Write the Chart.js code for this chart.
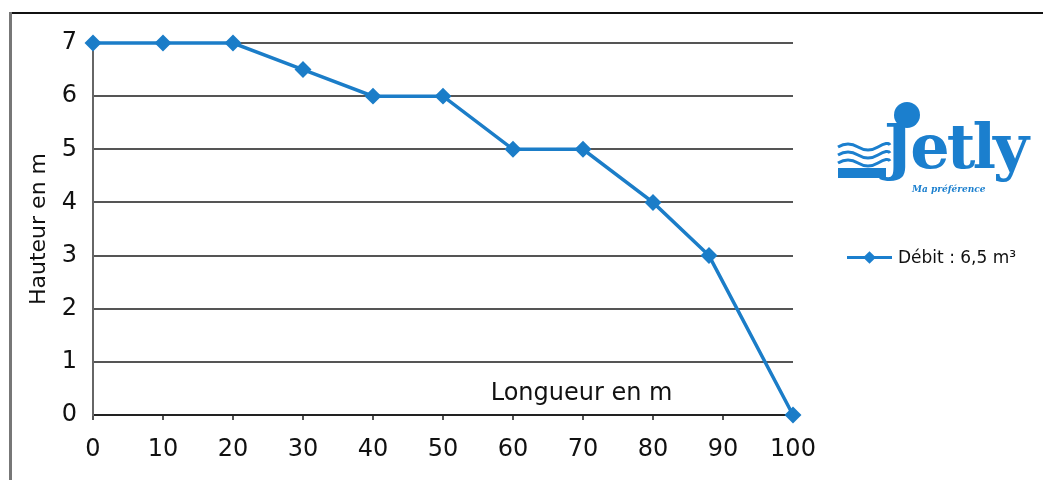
<!DOCTYPE html>
<html>
<head>
<meta charset="utf-8">
<script src="https://cdn.jsdelivr.net/npm/chart.js@4/dist/chart.umd.min.js"></script>
<style>
  html, body { margin: 0; padding: 0; background: #fff; }
  body { width: 1043px; height: 480px; position: relative; overflow: hidden; font-family: "DejaVu Sans", sans-serif; }
  #wrap { position: absolute; left: 0; top: 0; width: 1043px; height: 480px; }
  .frame-top { position: absolute; left: 10px; right: 0; top: 12px; height: 2px; background: #111; }
  .frame-left { position: absolute; left: 9px; top: 12px; bottom: 0; width: 3px; background: #777; }
  .logo { position: absolute; left: 836px; top: 96px; width: 200px; height: 110px; }
  .logo .dot { position: absolute; left: 58px; top: 6px; width: 26px; height: 26px; border-radius: 50%; background: #1b7fce; }
  .logo .word { position: absolute; left: 48px; top: 20px; font-family: "DejaVu Serif", serif; font-weight: bold; font-size: 62px; letter-spacing: -3px; color: #1b7fce; line-height: 1; }
  .logo .tag { position: absolute; left: 76px; top: 88px; font-family: "DejaVu Serif", serif; font-style: italic; font-weight: bold; font-size: 9px; color: #1b7fce; }
  .logo svg { position: absolute; left: 0; top: 46px; }
  .legend { position: absolute; left: 847px; top: 247px; display: flex; align-items: center; font-size: 17px; color: #111; }
  .legend .sym { position: relative; width: 45px; height: 18px; margin-right: 6px; }
  .legend .sym .ln { position: absolute; left: 0; right: 0; top: 8px; height: 3px; background: #1b7fce; }
  .legend .sym .dm { position: absolute; left: 18px; top: 5px; width: 9px; height: 9px; background: #1b7fce; transform: rotate(45deg); }
</style>
</head>
<body>
<div id="wrap"><canvas id="chart" width="1043" height="480"></canvas></div>
<div class="frame-top"></div>
<div class="frame-left"></div>
<div class="logo">
  <svg width="56" height="38" viewBox="0 0 56 38">
    <path d="M2 5 Q12 -1 22 5 T42 5 T54 3" stroke="#1b7fce" stroke-width="3" fill="none"/>
    <path d="M2 13 Q12 7 22 13 T42 13 T54 11" stroke="#1b7fce" stroke-width="3" fill="none"/>
    <path d="M2 21 Q12 15 22 21 T42 21 T54 19" stroke="#1b7fce" stroke-width="3" fill="none"/>
    <path d="M2 26 L50 26 L50 36 L2 36 Z" fill="#1b7fce"/>
  </svg>
  <div class="dot"></div>
  <div class="word">Jetly</div>
  <div class="tag">Ma préférence</div>
</div>
<div class="legend"><div class="sym"><div class="ln"></div><div class="dm"></div></div><span>Débit : 6,5 m³</span></div>
<script>
const lengths = [0, 10, 20, 30, 40, 50, 60, 70, 80, 88, 100];
const heights = [7, 7, 7, 6.5, 6, 6, 5, 5, 4, 3, 0];
const xTicks = [0, 10, 20, 30, 40, 50, 60, 70, 80, 90, 100];
const yTicks = [0, 1, 2, 3, 4, 5, 6, 7];

const BLUE = '#1b7dc8';
const FONT = '"DejaVu Sans", sans-serif';

const points = lengths.map((x, i) => ({ x, y: heights[i] }));

// "Longueur en m" sits inside the plot, above the x axis
const insideTitle = {
  id: 'insideTitle',
  afterDatasetsDraw(chart) {
    const { ctx, scales } = chart;
    ctx.save();
    ctx.font = '24px ' + FONT;
    ctx.fillStyle = '#111';
    ctx.textAlign = 'center';
    ctx.textBaseline = 'middle';
    ctx.fillText('Longueur en m', scales.x.getPixelForValue(69.8), scales.y.getPixelForValue(0.4));
    ctx.restore();
  }
};

new Chart(document.getElementById('chart'), {
  type: 'line',
  data: {
    datasets: [{
      label: 'Débit : 6,5 m³',
      data: points,
      borderColor: BLUE,
      backgroundColor: BLUE,
      borderWidth: 3.5,
      pointStyle: 'rectRot',
      pointRadius: 6,
      pointHoverRadius: 6,
      tension: 0,
      clip: false
    }]
  },
  options: {
    responsive: false,
    animation: false,
    events: [],
    layout: { padding: { left: 22, right: 250, top: 43, bottom: 0 } },
    plugins: { legend: { display: false }, tooltip: { enabled: false } },
    scales: {
      x: {
        type: 'linear',
        min: 0,
        max: 100,
        afterBuildTicks: (s) => { s.ticks = xTicks.map((v) => ({ value: v })); },
        afterFit: (s) => { s.height = 65; },
        grid: { drawOnChartArea: false, drawTicks: true, tickLength: 5, color: '#555', lineWidth: 2 },
        border: { color: '#222', width: 2 },
        ticks: { color: '#111', font: { size: 24, family: FONT }, padding: 15, maxRotation: 0 }
      },
      y: {
        min: 0,
        max: 7,
        afterBuildTicks: (s) => { s.ticks = yTicks.map((v) => ({ value: v })); },
        afterFit: (s) => { s.width = 71; },
        grid: { color: '#555', lineWidth: 2, drawTicks: false },
        border: { color: '#666', width: 2 },
        ticks: { color: '#111', font: { size: 24, family: FONT }, padding: 16 },
        title: { display: true, text: 'Hauteur en m', color: '#111', font: { size: 22, family: FONT }, padding: { top: 4, bottom: 0 } }
      }
    }
  },
  plugins: [insideTitle]
});
</script>
</body>
</html>
